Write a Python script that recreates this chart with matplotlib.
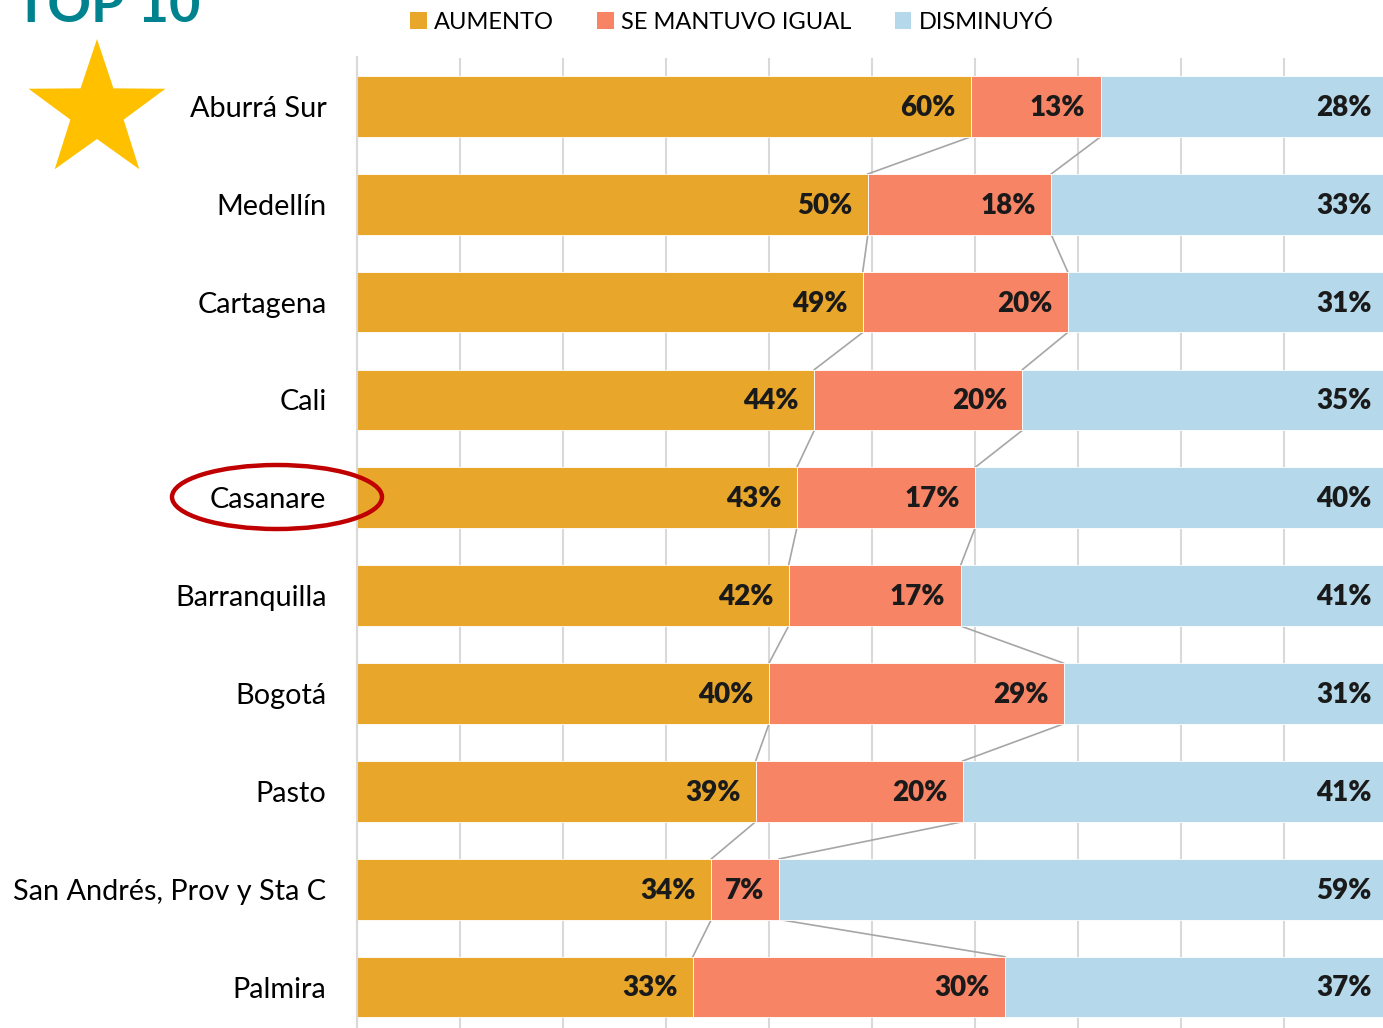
import matplotlib.pyplot as plt
import numpy as np
from matplotlib.patches import Ellipse, Patch, Polygon

plt.rcParams['font.family'] = ['Lato', 'DejaVu Sans']

cities = ['Aburrá Sur', 'Medellín', 'Cartagena', 'Cali', 'Casanare',
          'Barranquilla', 'Bogotá', 'Pasto', 'San Andrés, Prov y Sta C', 'Palmira']
aumento = [59.6, 49.6, 49.1, 44.4, 42.7, 41.9, 40.0, 38.7, 34.4, 32.6]
igual = [12.6, 17.8, 19.9, 20.2, 17.3, 16.7, 28.6, 20.1, 6.6, 30.3]
disminuyo = [27.8, 32.6, 31.0, 35.4, 40.0, 41.4, 31.4, 41.2, 59.0, 37.1]
series_names = ['AUMENTO', 'SE MANTUVO IGUAL', 'DISMINUYÓ']
colors = ['#E8A72B', '#F88466', '#B5D8EA']

W, H = 1383, 1028
fig = plt.figure(figsize=(W / 100, H / 100), dpi=100)
ax = fig.add_axes([357 / W, 1 - 1036 / H, 1030 / W, (1036 - 57.5) / H])

y = np.arange(len(cities))
data = np.array([aumento, igual, disminuyo])
left = np.zeros(len(cities))
bh = 0.62
for vals, col in zip(data, colors):
    ax.barh(y, vals, left=left, height=bh, color=col, edgecolor='white',
            linewidth=0.6, zorder=2)
    for yi, (l, v) in enumerate(zip(left, vals)):
        ax.annotate(f'{v:.0f}%', (l + v, yi), xytext=(-11, -1),
                    textcoords='offset points', ha='right', va='center',
                    fontsize=20, fontweight='heavy', color='#1a1a1a', zorder=4)
    left = left + vals

# series lines between bars
cum = np.cumsum(data, axis=0)
for k in range(2):
    for i in range(len(cities) - 1):
        ax.plot([cum[k, i], cum[k, i + 1]], [i + bh / 2, i + 1 - bh / 2],
                color='#A6A6A6', lw=1.2, zorder=1)

ax.set_xlim(0, 100)
ax.set_ylim(len(cities) - 0.5, -0.5)
ax.set_xticks(np.arange(0, 101, 10))
ax.xaxis.grid(True, color='#D9D9D9', lw=1.5, zorder=0)
ax.set_axisbelow(True)
ax.tick_params(axis='x', length=0, labelbottom=False)
ax.tick_params(axis='y', length=0, pad=22, labelsize=20.8)
ax.set_yticks(y)
ax.set_yticklabels(cities)
for s in ['top', 'right', 'bottom']:
    ax.spines[s].set_visible(False)
ax.spines['left'].set_color('#D9D9D9')
ax.spines['left'].set_linewidth(1.5)

# legend
handles = [Patch(facecolor=c, edgecolor='none') for c in colors]
fig.legend(handles, series_names, loc='center left', ncol=3, frameon=False,
           bbox_to_anchor=(410 / W, 1 - 22 / H), fontsize=17,
           handlelength=0.7, handleheight=0.7, handletextpad=0.3,
           columnspacing=1.85, borderaxespad=0, borderpad=0)

# title
fig.text(15 / W, 1 - 22 / H, 'TOP 10', fontsize=39, fontweight='bold',
         color='#00838F', va='baseline', ha='left')

# star
cx, cy, R, r = 97, 111, 72, 28
ang = np.pi / 2 + np.arange(10) * np.pi / 5
rad = np.where(np.arange(10) % 2 == 0, R, r)
px = (cx + rad * np.cos(ang)) / W
py = 1 - (cy - rad * np.sin(ang)) / H
fig.add_artist(Polygon(np.column_stack([px, py]), closed=True,
                       facecolor='#FFC000', edgecolor='none',
                       transform=fig.transFigure))

# highlight ellipse
fig.add_artist(Ellipse((277 / W, 1 - 497 / H), 210 / W, 64 / H,
                       facecolor='none', edgecolor='#C00000', lw=3.2,
                       transform=fig.transFigure, zorder=5))

fig.savefig('out.png', dpi=100)
